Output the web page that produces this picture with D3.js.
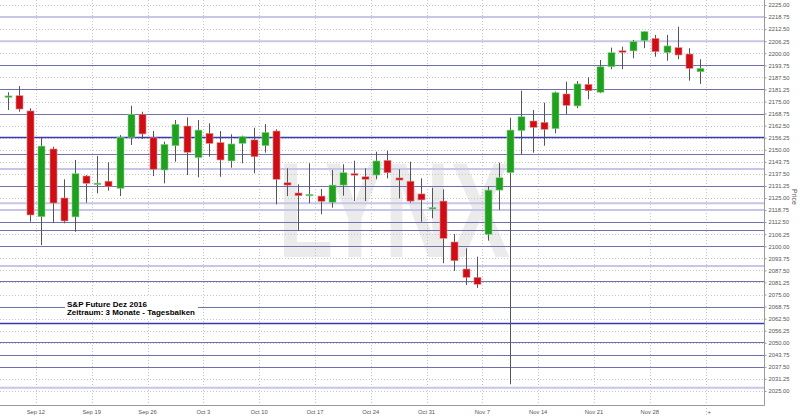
<!DOCTYPE html>
<html lang="de">
<head>
    <meta charset="UTF-8">
    <title>S&amp;P Future Dez 2016</title>
    <script src="https://d3js.org/d3.v7.min.js"></script>
    <style>
        body { margin: 0; background: #fff; }
        text { font-family: "Liberation Sans", Arial, sans-serif; }
    </style>
</head>
<body>
    <div id="chart"></div>

    <script>

        // daily candles, Sep 7 - Dec 2 2016
        const dates = [
            "2016-09-07","2016-09-08","2016-09-09",
            "2016-09-12","2016-09-13","2016-09-14","2016-09-15","2016-09-16",
            "2016-09-19","2016-09-20","2016-09-21","2016-09-22","2016-09-23",
            "2016-09-26","2016-09-27","2016-09-28","2016-09-29","2016-09-30",
            "2016-10-03","2016-10-04","2016-10-05","2016-10-06","2016-10-07",
            "2016-10-10","2016-10-11","2016-10-12","2016-10-13","2016-10-14",
            "2016-10-17","2016-10-18","2016-10-19","2016-10-20","2016-10-21",
            "2016-10-24","2016-10-25","2016-10-26","2016-10-27","2016-10-28",
            "2016-10-31","2016-11-01","2016-11-02","2016-11-03","2016-11-04",
            "2016-11-07","2016-11-08","2016-11-09","2016-11-10","2016-11-11",
            "2016-11-14","2016-11-15","2016-11-16","2016-11-17","2016-11-18",
            "2016-11-21","2016-11-22","2016-11-23","2016-11-24","2016-11-25",
            "2016-11-28","2016-11-29","2016-11-30","2016-12-01","2016-12-02"
        ];

        const open = [
            2177.6, 2178.0, 2170.1, 2115.3, 2150.4, 2125.0, 2115.2, 2136.4, 2132.4, 2133.7,
            2130.0, 2156.5, 2168.4, 2156.2, 2139.5, 2152.1, 2162.3, 2145.9, 2158.5, 2153.7,
            2144.2, 2153.3, 2155.1, 2152.1, 2159.7, 2132.9, 2127.6, 2126.2, 2126.0, 2122.8,
            2131.7, 2137.6, 2136.0, 2136.9, 2144.5, 2135.4, 2133.7, 2127.1, 2119.9, 2123.4,
            2102.2, 2088.2, 2083.9, 2106.2, 2129.1, 2138.1, 2159.9, 2164.9, 2164.2, 2160.9,
            2178.9, 2172.7, 2183.9, 2179.8, 2193.0, 2201.3, 2201.2, 2206.5, 2207.7, 2200.3,
            2202.9, 2199.6, 2190.4
        ];
        const high = [
            2179.8, 2183.0, 2171.5, 2156.5, 2151.6, 2134.7, 2144.7, 2136.9, 2146.8, 2143.5,
            2157.6, 2172.8, 2169.7, 2159.7, 2154.2, 2165.4, 2166.8, 2165.4, 2163.7, 2159.7,
            2158.0, 2157.3, 2161.4, 2163.3, 2160.6, 2140.4, 2132.1, 2143.0, 2129.7, 2139.5,
            2142.5, 2144.3, 2140.4, 2149.0, 2149.5, 2139.9, 2143.8, 2135.2, 2130.3, 2129.5,
            2106.3, 2098.9, 2094.6, 2131.2, 2143.3, 2166.6, 2180.6, 2170.6, 2174.4, 2180.2,
            2185.3, 2185.6, 2187.5, 2196.5, 2202.9, 2203.4, 2206.9, 2211.5, 2209.5, 2209.5,
            2213.8, 2202.6, 2196.9
        ];
        const low = [
            2170.6, 2169.7, 2112.7, 2100.6, 2112.2, 2111.9, 2107.5, 2122.6, 2127.4, 2128.8,
            2126.0, 2152.5, 2155.6, 2136.4, 2132.6, 2143.8, 2136.9, 2135.7, 2146.4, 2136.0,
            2140.7, 2143.0, 2137.8, 2148.5, 2121.7, 2126.0, 2107.9, 2122.3, 2116.6, 2120.0,
            2126.2, 2123.4, 2123.4, 2134.8, 2135.2, 2124.8, 2122.6, 2112.7, 2114.5, 2091.2,
            2087.2, 2079.9, 2078.4, 2102.9, 2118.8, 2028.5, 2147.6, 2148.5, 2152.1, 2158.5,
            2168.5, 2171.5, 2176.1, 2179.3, 2191.7, 2191.7, 2197.4, 2202.6, 2198.2, 2196.1,
            2196.9, 2185.8, 2184.1
        ];
        const close = [
            2177.9, 2171.1, 2116.2, 2151.9, 2122.4, 2113.1, 2137.6, 2132.6, 2132.7, 2130.9,
            2156.5, 2168.4, 2158.2, 2139.9, 2152.8, 2163.2, 2148.7, 2160.2, 2153.3, 2144.7,
            2153.0, 2156.8, 2146.4, 2159.0, 2134.7, 2131.7, 2126.2, 2126.9, 2123.3, 2131.7,
            2138.1, 2136.9, 2134.7, 2144.2, 2138.1, 2134.3, 2123.4, 2124.0, 2120.1, 2104.1,
            2092.5, 2083.9, 2080.3, 2129.1, 2135.5, 2160.2, 2167.1, 2161.6, 2160.6, 2179.6,
            2173.0, 2184.1, 2180.6, 2193.0, 2200.3, 2201.0, 2206.0, 2211.2, 2200.8, 2203.8,
            2199.1, 2192.2, 2192.2
        ];

        // x ticks: Mondays, last one is the following week
        const tickDates = ["2016-09-12","2016-09-19","2016-09-26","2016-10-03","2016-10-10","2016-10-17",
                           "2016-10-24","2016-10-31","2016-11-07","2016-11-14","2016-11-21","2016-11-28"];
        const tickLabels = ["Sep 12","Sep 19","Sep 26","Oct 3","Oct 10","Oct 17",
                            "Oct 24","Oct 31","Nov 7","Nov 14","Nov 21","Nov 28"];

        const yTicks = [2025.00, 2031.25, 2037.50, 2043.75, 2050.00, 2056.25, 2062.50, 2068.75,
                        2075.00, 2081.25, 2087.50, 2093.75, 2100.00, 2106.25, 2112.50, 2118.75,
                        2125.00, 2131.25, 2137.50, 2143.75, 2150.00, 2156.25, 2162.50, 2168.75,
                        2175.00, 2181.25, 2187.50, 2193.75, 2200.00, 2206.25, 2212.50, 2218.75, 2225.00];

        // horizontal support / resistance lines
        const levelsDark = [2193.75, 2181.25, 2168.75, 2147.6, 2131.25, 2112.7, 2108.4, 2100.0,
                            2081.8, 2068.75, 2050.2, 2043.75, 2037.3];
        const levelsBlue = [2156.4, 2060.2];
        const levelsLight = [2218.75, 2206.25, 2140.0, 2122.3, 2118.75, 2089.8, 2026.7];

        const title = "S&P Future Dez 2016";
        const subtitle = "Zeitraum: 3 Monate - Tagesbalken";

        const W = 800, H = 417;
        const plotRight = 764, plotBottom = 405;

        const data = dates.map((d, i) => ({date: d, o: open[i], h: high[i], l: low[i], c: close[i]}));

        const svg = d3.select("#chart")
        .append("svg")
            .attr("width", W)
            .attr("height", H);

        const x = d3.scaleBand()
        .domain(dates)
        .range([2.4, 705.6])
        .paddingInner(0.38)
        .paddingOuter(0.19);
        const step = x.step();
        const bandStart = d => x(d) - x.paddingInner() * step / 2;

        const y = d3.scaleLinear()
        .domain([2025, 2225])
        .range([391, 5]);

        // watermark
        svg.append("text")
            .attr("x", 278)
            .attr("y", 257)
            .attr("textLength", 232)
            .attr("lengthAdjust", "spacingAndGlyphs")
            .style("font-size", "135px")
            .style("font-weight", "bold")
            .style("fill", "#ebebeb")
            .text("LYNX");

        // dotted grid
        svg.append("g")
        .selectAll("line")
        .data(yTicks)
        .join("line")
            .attr("x1", 0)
            .attr("x2", plotRight)
            .attr("y1", d => Math.round(y(d)) + 0.5)
            .attr("y2", d => Math.round(y(d)) + 0.5)
            .attr("stroke", "#c4c4c4")
            .attr("stroke-dasharray", "1,2");

        const vlines = tickDates.map(bandStart).concat([x.range()[1]]);
        svg.append("g")
        .selectAll("line")
        .data(vlines)
        .join("line")
            .attr("x1", d => Math.round(d) + 0.5)
            .attr("x2", d => Math.round(d) + 0.5)
            .attr("y1", 0)
            .attr("y2", (d, i) => i === vlines.length - 1 ? 415 : plotBottom)
            .attr("stroke", "#c4c4c4")
            .attr("stroke-dasharray", "1,2");

        // level lines
        svg.append("g")
        .selectAll("line")
        .data(levelsLight)
        .join("line")
            .attr("x1", 0).attr("x2", plotRight)
            .attr("y1", d => y(d)).attr("y2", d => y(d))
            .attr("stroke", "#c6c6e8")
            .attr("stroke-width", 2);
        svg.append("g")
        .selectAll("line")
        .data(levelsDark)
        .join("line")
            .attr("x1", 0).attr("x2", plotRight)
            .attr("y1", d => Math.round(y(d)) + 0.5).attr("y2", d => Math.round(y(d)) + 0.5)
            .attr("stroke", "#7070ae")
            .attr("stroke-width", 1);
        svg.append("g")
        .selectAll("line")
        .data(levelsBlue)
        .join("line")
            .attr("x1", 0).attr("x2", plotRight)
            .attr("y1", d => Math.round(y(d)) + 0.5).attr("y2", d => Math.round(y(d)) + 0.5)
            .attr("stroke", "#3a3ab0")
            .attr("stroke-width", 1.3);

        // candles
        const candles = svg.append("g")
        .selectAll("g")
        .data(data)
        .join("g");

        candles.append("line")
            .attr("x1", d => Math.round(x(d.date) + x.bandwidth() / 2) + 0.5)
            .attr("x2", d => Math.round(x(d.date) + x.bandwidth() / 2) + 0.5)
            .attr("y1", d => y(d.h))
            .attr("y2", d => y(d.l))
            .attr("stroke", "#555")
            .attr("stroke-width", 1);

        candles.append("rect")
            .attr("x", d => Math.round(x(d.date) + x.bandwidth() / 2) - 3)
            .attr("width", 7)
            .attr("y", d => y(Math.max(d.o, d.c)))
            .attr("height", d => Math.max(1.5, Math.abs(y(d.o) - y(d.c))))
            .attr("fill", d => d.c >= d.o ? "#1fa01f" : "#cf0d14")
            .attr("stroke", d => d.c >= d.o ? "#8fd48f" : "#e88a8d")
            .attr("stroke-width", 0.6);

        // axes frame
        svg.append("line")
            .attr("x1", 0).attr("x2", plotRight + 0.5)
            .attr("y1", plotBottom + 0.5).attr("y2", plotBottom + 0.5)
            .attr("stroke", "#999");
        svg.append("line")
            .attr("x1", plotRight + 0.5).attr("x2", plotRight + 0.5)
            .attr("y1", 0).attr("y2", plotBottom + 0.5)
            .attr("stroke", "#999");

        // y axis
        const yAxis = svg.append("g")
            .attr("transform", `translate(${plotRight + 0.5},0)`)
            .call(d3.axisRight(y).tickValues(yTicks).tickFormat(d3.format(".2f")).tickSize(2).tickPadding(2));
        yAxis.select(".domain").remove();
        yAxis.selectAll("line").attr("stroke", "#999");
        yAxis.selectAll("text")
            .style("font-size", "5.8px")
            .style("font-family", "Liberation Sans, Arial, sans-serif")
            .attr("fill", "#555");

        svg.append("text")
            .attr("transform", "translate(792,189) rotate(90)")
            .style("font-size", "7px")
            .attr("fill", "#555")
            .text("Price");

        // x labels
        svg.append("g")
        .selectAll("text")
        .data(tickLabels.concat(["+"]))
        .join("text")
            .attr("x", (d, i) => i < tickDates.length ? bandStart(tickDates[i]) : x.range()[1] + 2)
            .attr("y", 413.5)
            .attr("text-anchor", (d, i) => i < tickDates.length ? "middle" : "start")
            .style("font-size", "5.8px")
            .attr("fill", "#555")
            .text(d => d);

        // legend
        svg.append("rect")
            .attr("x", 65).attr("y", 297)
            .attr("width", 133).attr("height", 22)
            .attr("fill", "#fff");
        svg.append("text")
            .attr("x", 67).attr("y", 306.5)
            .attr("textLength", 80)
            .attr("lengthAdjust", "spacingAndGlyphs")
            .style("font-size", "8px")
            .style("font-weight", "bold")
            .text(title);
        svg.append("text")
            .attr("x", 67).attr("y", 315)
            .attr("textLength", 128)
            .attr("lengthAdjust", "spacingAndGlyphs")
            .style("font-size", "8px")
            .style("font-weight", "bold")
            .text(subtitle);

    </script>
</body>
</html>
